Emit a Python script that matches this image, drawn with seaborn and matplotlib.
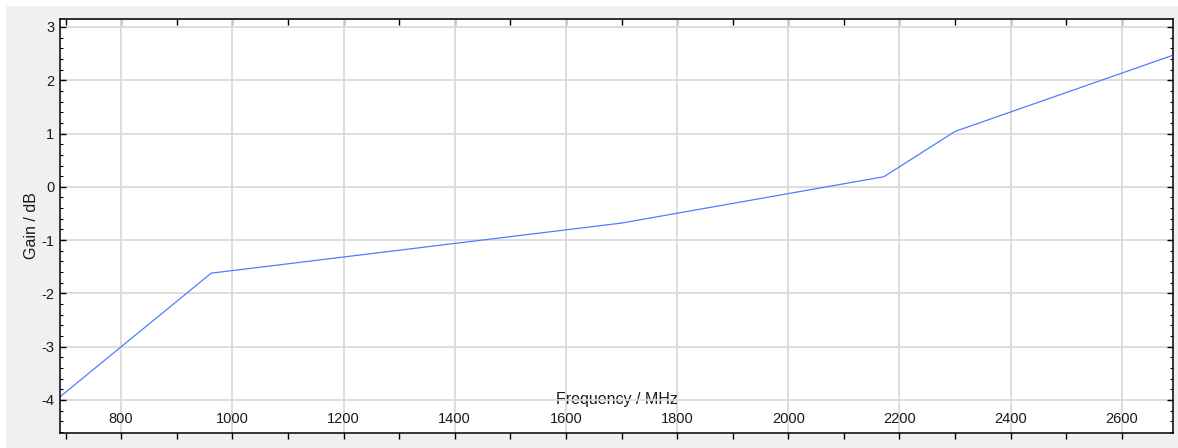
import numpy as np
import pandas as pd
import seaborn as sns
import matplotlib
matplotlib.use('Agg')
import matplotlib.pyplot as plt
from matplotlib.ticker import MultipleLocator
from matplotlib.patches import Rectangle

# gain curve (break points of the polyline)
freq_mhz = [690, 962, 1700, 2172, 2300, 2692]
gain_db = [-3.94, -1.62, -0.68, 0.19, 1.04, 2.47]

x_ticks = [800, 1000, 1200, 1400, 1600, 1800, 2000, 2200, 2400, 2600]
y_ticks = [-4, -3, -2, -1, 0, 1, 2, 3]

sns.set_theme(style="whitegrid")
plt.rcParams['font.family'] = ['Liberation Sans', 'DejaVu Sans']
plt.rcParams['axes.unicode_minus'] = False

df = pd.DataFrame({'Frequency / MHz': freq_mhz, 'Gain / dB': gain_db})

fig = plt.figure(figsize=(11.78, 4.48), dpi=100, facecolor='#f0f0f0')
# thin white strip along top/left edge of the window
fig.patches.append(Rectangle((0, 1 - 5 / 448), 1, 5 / 448, transform=fig.transFigure,
                             color='white', zorder=0))
fig.patches.append(Rectangle((0, 0), 5 / 1178, 1, transform=fig.transFigure,
                             color='white', zorder=0))
ax = fig.add_axes([60 / 1178, 1 - 432.5 / 448, 1113 / 1178, 413 / 448])
ax.set_facecolor('white')

sns.lineplot(data=df, x='Frequency / MHz', y='Gain / dB', ax=ax,
             color='#4f7dff', linewidth=0.9)

ax.set_xlim(690, 2692)
ax.set_ylim(-4.61, 3.14)
ax.set_xticks(x_ticks)
ax.set_yticks(y_ticks)
ax.xaxis.set_minor_locator(MultipleLocator(100))
ax.yaxis.set_minor_locator(MultipleLocator(0.2))

ax.grid(True, which='major', color='#dadada', linewidth=1.3)
ax.grid(False, which='minor')

for spine in ax.spines.values():
    spine.set_visible(True)
    spine.set_color('black')
    spine.set_linewidth(1.1)

# bottom: ticks outward, labels drawn inside the plot area
ax.tick_params(axis='x', which='both', direction='out', length=4, width=1,
               color='black', bottom=True, top=False, pad=-18.5,
               labelsize=10.5, labelcolor='#1a1a1a')
# left/right: ticks inward
ax.tick_params(axis='y', which='major', direction='in', length=4.5, width=1,
               color='black', left=True, right=True, pad=4,
               labelsize=10.5, labelcolor='#1a1a1a')
ax.tick_params(axis='y', which='minor', direction='in', length=2.3, width=0.8,
               color='black', left=True, right=True)

# top: inward ticks every 100 MHz, no labels
top = ax.secondary_xaxis('top')
top.set_xticks(np.arange(700, 2700, 100))
top.tick_params(direction='in', length=4, width=1, color='black', labeltop=False)
top.spines['top'].set_linewidth(1.1)

ax.set_xlabel('Frequency / MHz', fontsize=11.5, color='#1a1a1a')
ax.xaxis.set_label_coords(0.5, 0.097)
ax.set_ylabel('Gain / dB', fontsize=11.5, color='#1a1a1a', labelpad=2)

fig.savefig('out.png', dpi=100, facecolor=fig.get_facecolor())
